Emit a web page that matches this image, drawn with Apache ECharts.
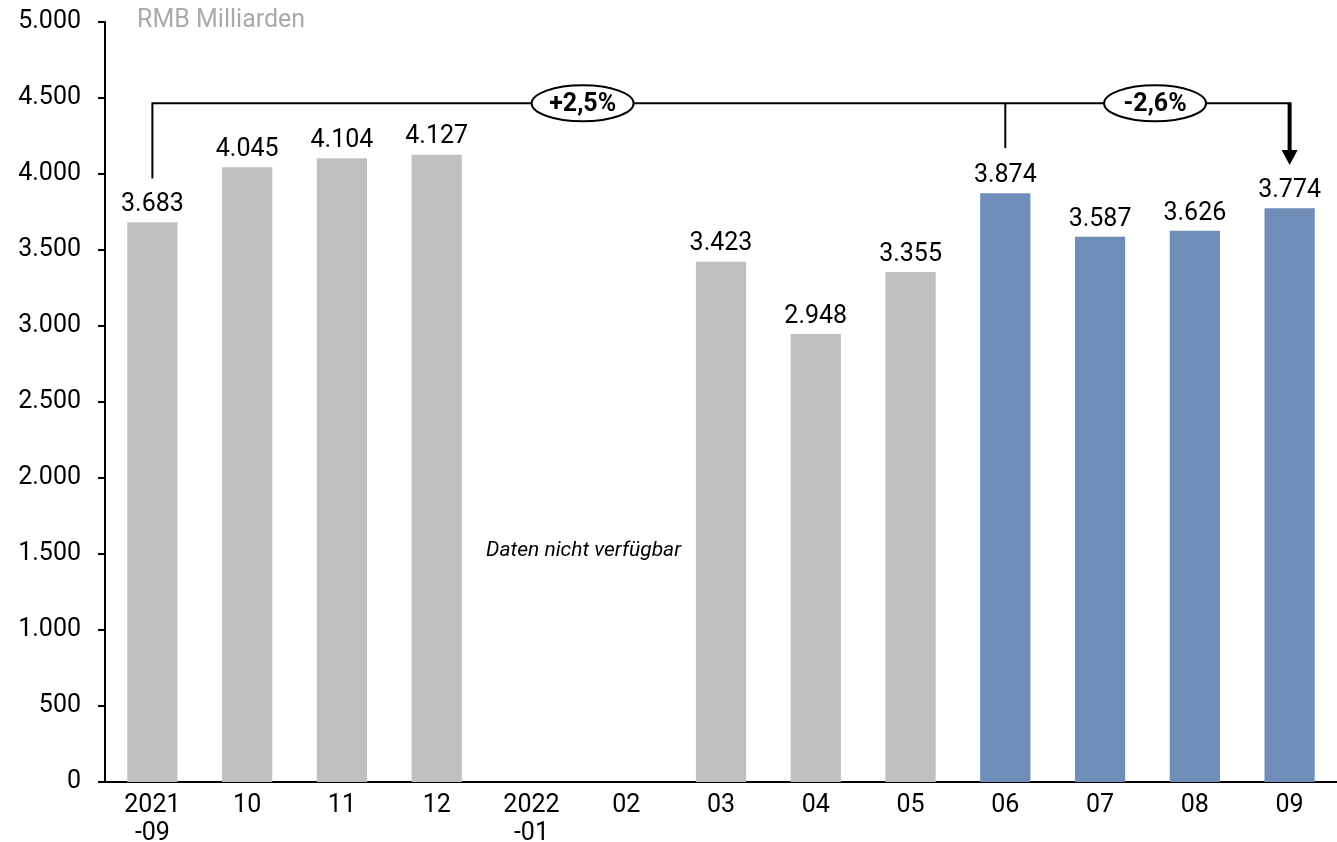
<!DOCTYPE html>
<html>
<head>
<meta charset="utf-8">
<script src="https://cdn.jsdelivr.net/npm/echarts@6/dist/echarts.min.js"></script>
<style>
html,body{margin:0;padding:0;background:#fff;}
#main{width:1337px;height:842px;}
</style>
</head>
<body>
<div id="main"></div>
<script>
var categories = ['2021\n-09', '10', '11', '12', '2022\n-01', '02', '03', '04', '05', '06', '07', '08', '09'];
var values = [3683, 4045, 4104, 4127, null, null, 3423, 2948, 3355, 3874, 3587, 3626, 3774];
var highlightFrom = 9;
var yTicks = [0, 500, 1000, 1500, 2000, 2500, 3000, 3500, 4000, 4500, 5000];
// bracket: level and end heights in data units
var bracketLevel = 4465;
var bracketLeftEnd = 3970;
var bracketMidEnd = 4170;
var arrowEnd = 4060;
var changeLabels = ['+2,5%', '-2,6%'];
var changeAt = [4.54, 10.58];

var GRAY = '#bfbfbf', BLUE = '#6e8db9';

var myChart = echarts.init(document.getElementById('main'));

var barData = [];
for (var i = 0; i < values.length; i++) {
	barData.push({
		value: values[i],
		itemStyle: { color: i >= highlightFrom ? BLUE : GRAY }
	});
}

function fmt(v) {
	return String(v).replace(/\B(?=(\d{3})+(?!\d))/g, '.');
}

var option = {
	animation: false,
	grid: { left: 105, right: 0, top: 22, bottom: 60, containLabel: false, outerBoundsMode: 'none' },
	xAxis: {
		type: 'category',
		data: categories,
		axisLine: { lineStyle: { color: '#000', width: 2 } },
		axisTick: { show: false },
		axisLabel: { color: '#000', fontSize: 25, fontFamily: 'Roboto', lineHeight: 28, margin: 10 }
	},
	yAxis: {
		type: 'value',
		min: 0, max: 5000, interval: 500,
		axisLine: { show: true, lineStyle: { color: '#000', width: 2 } },
		axisTick: { show: true, length: 7, lineStyle: { color: '#000', width: 2 } },
		splitLine: { show: false },
		axisLabel: { color: '#000', fontSize: 25, fontFamily: 'Roboto', margin: 24, formatter: function (v) { return fmt(v); } }
	},
	series: [{
		type: 'bar',
		data: barData,
		barWidth: '53%',
		label: {
			show: true, position: 'top', distance: 5,
			color: '#000', fontSize: 25, fontFamily: 'Roboto',
			formatter: function (p) { return p.value == null ? '' : fmt(p.value); }
		}
	}]
};
myChart.setOption(option);

function px(idx, val) {
	return myChart.convertToPixel({ seriesIndex: 0 }, [idx, val]);
}
function xAt(f) {
	var a = px(0, 0)[0], b = px(1, 0)[0];
	return a + (b - a) * f;
}

var yLevel = px(0, bracketLevel)[1];
var x0 = px(0, 0)[0], x9 = px(9, 0)[0], x12 = px(12, 0)[0];
var yArrow = px(12, arrowEnd)[1];
var lineStyle = { stroke: '#000', lineWidth: 2 };
var graphics = [
	{ type: 'text', left: 137, top: 8, style: { text: 'RMB Milliarden', fill: '#aaaaaa', font: '25px Roboto' } },
	{ type: 'polyline', shape: { points: [[x0, px(0, bracketLeftEnd)[1]], [x0, yLevel], [x12, yLevel]] }, style: lineStyle },
	{ type: 'line', shape: { x1: x9, y1: yLevel, x2: x9, y2: px(9, bracketMidEnd)[1] }, style: lineStyle },
	{ type: 'line', shape: { x1: x12, y1: yLevel - 1, x2: x12, y2: yArrow - 12 }, style: { stroke: '#000', lineWidth: 4 } },
	{ type: 'polygon', shape: { points: [[x12 - 8, yArrow - 15], [x12 + 8, yArrow - 15], [x12, yArrow]] }, style: { fill: '#000' } },
	{ type: 'text', x: xAt(4.55), y: px(0, 1520)[1], style: { text: 'Daten nicht verfügbar', fill: '#000', font: 'italic 21px Roboto', align: 'center', verticalAlign: 'middle' } }
];
for (var k = 0; k < changeLabels.length; k++) {
	var cx = xAt(changeAt[k]);
	graphics.push({ type: 'ellipse', shape: { cx: cx, cy: yLevel, rx: 51, ry: 18 }, style: { fill: '#fff', stroke: '#000', lineWidth: 2 } });
	graphics.push({ type: 'text', x: cx, y: yLevel + 1, style: { text: changeLabels[k], fill: '#000', font: 'bold 25px Roboto', align: 'center', verticalAlign: 'middle' } });
}
myChart.setOption({ graphic: graphics });
</script>
</body>
</html>
